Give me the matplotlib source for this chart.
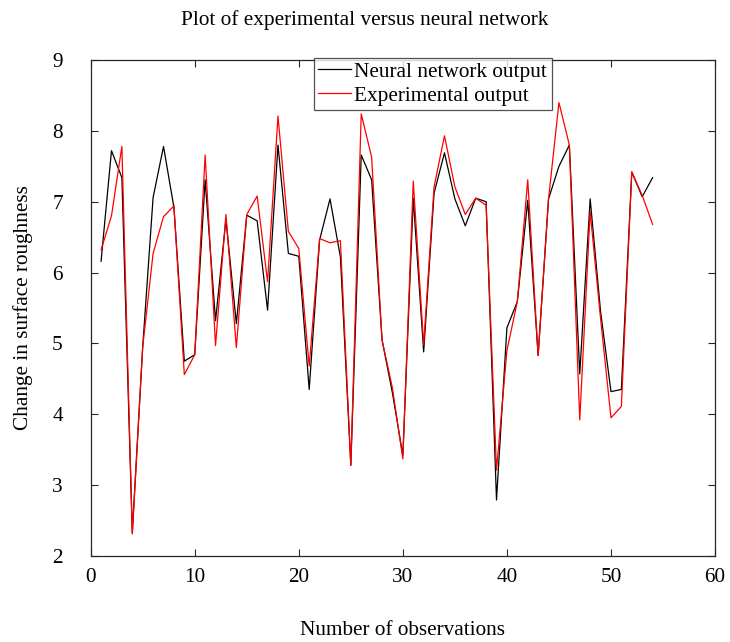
import matplotlib
matplotlib.use("Agg")
import matplotlib.pyplot as plt
import numpy as np

observations = list(range(1, 55))
neural_output = [6.16, 7.72, 7.34, 2.33, 4.95, 7.06, 7.78, 6.92, 4.75, 4.84,
                 7.31, 5.32, 6.75, 5.28, 6.81, 6.73, 5.47, 7.80, 6.27, 6.23,
                 4.35, 6.46, 7.04, 6.22, 3.28, 7.66, 7.31, 5.05, 4.30, 3.42,
                 7.05, 4.88, 7.12, 7.69, 7.04, 6.66, 7.05, 7.00, 2.79, 5.22,
                 5.59, 7.02, 4.83, 7.04, 7.50, 7.80, 4.57, 7.04, 5.45, 4.32,
                 4.35, 7.42, 7.07, 7.34]
experimental_output = [6.32, 6.80, 7.78, 2.31, 4.95, 6.27, 6.79, 6.94, 4.56, 4.84,
                       7.66, 4.97, 6.82, 4.94, 6.82, 7.08, 5.87, 8.21, 6.58, 6.34,
                       4.68, 6.48, 6.42, 6.45, 3.28, 8.24, 7.63, 5.05, 4.37, 3.37,
                       7.29, 4.98, 7.21, 7.93, 7.21, 6.82, 7.05, 6.95, 3.21, 4.90,
                       5.59, 7.31, 4.83, 7.04, 8.40, 7.80, 3.92, 6.86, 5.35, 3.95,
                       4.11, 7.42, 7.09, 6.68]
x_ticks = [0, 10, 20, 30, 40, 50, 60]
y_ticks = [2, 3, 4, 5, 6, 7, 8, 9]

plt.rcParams['font.family'] = ['Liberation Serif', 'DejaVu Serif']
FS = 15.3

fig = plt.figure(figsize=(7.30, 6.42), dpi=100)
ax = fig.add_axes([0.1242, 0.134, 0.8553, 0.7725])

ax.plot(observations, neural_output, color='black', lw=0.9, label='Neural network output')
ax.plot(observations, experimental_output, color='red', lw=0.9, label='Experimental output')

ax.set_xlim(0, 60)
ax.set_ylim(2, 9)
ax.set_xticks(x_ticks)
ax.set_yticks(y_ticks)
ax.tick_params(direction='in', top=True, right=True, labelsize=FS, length=5,
               width=0.8, color='#262626')
ax.tick_params(axis='y', pad=20)
ax.tick_params(axis='x', pad=9)
for s in ax.spines.values():
    s.set_color('#262626')
    s.set_linewidth(0.9)

fig.text(0.5, 1 - 20 / 642, 'Plot of experimental versus neural network',
         fontsize=FS, ha='center', va='center')
ax.set_xlabel('Number of observations', fontsize=FS, labelpad=24)
ax.set_ylabel('Change in surface roughness', fontsize=FS, labelpad=14)

leg = ax.legend(loc='upper center', bbox_to_anchor=(0.548, 1.005), fontsize=FS,
                frameon=True, fancybox=False, handlelength=1.55, handletextpad=0.15,
                borderpad=0.2, labelspacing=0.2, borderaxespad=0.0)
leg.get_frame().set_edgecolor('#262626')
leg.get_frame().set_linewidth(0.9)

fig.savefig('out.png', dpi=100)
